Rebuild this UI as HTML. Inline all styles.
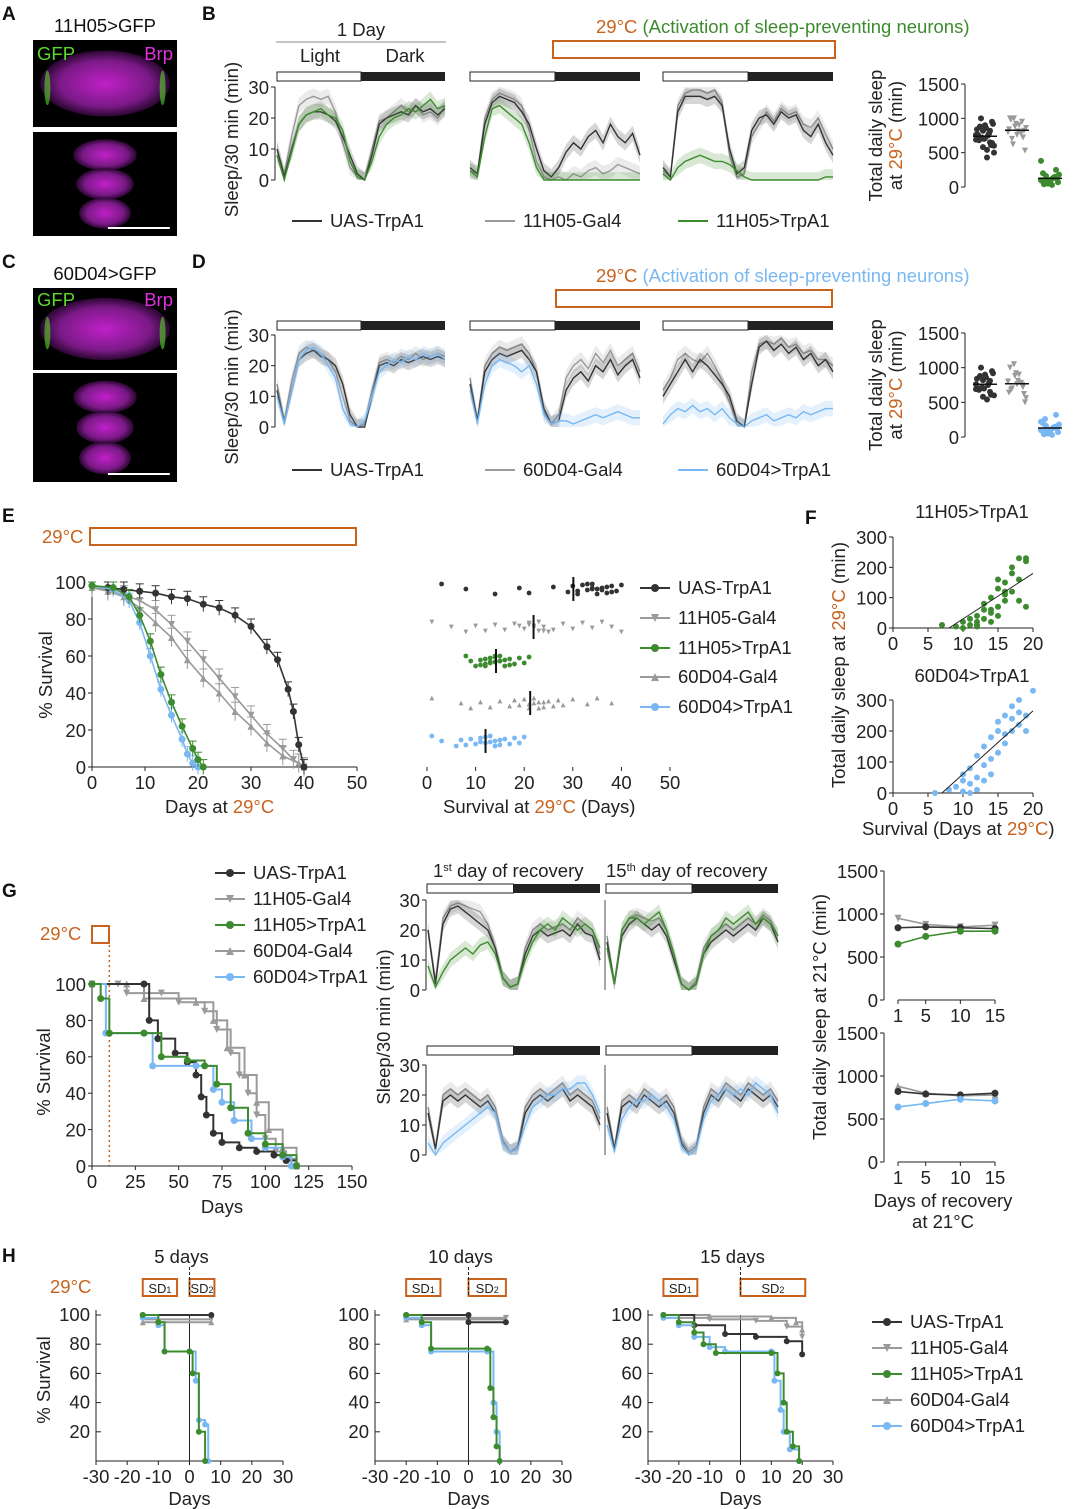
<!DOCTYPE html>
<html><head><meta charset="utf-8"><style>
html,body{margin:0;padding:0;background:#fff}
svg{display:block;font-family:"Liberation Sans",Arial,sans-serif}
</style></head><body>
<svg id="fig" width="1080" height="1509" viewBox="0 0 1080 1509" xmlns="http://www.w3.org/2000/svg">
<defs>
<radialGradient id="mag" cx="50%" cy="50%" r="50%"><stop offset="0" stop-color="#c020c8"/><stop offset="0.7" stop-color="#7a1a86"/><stop offset="1" stop-color="#2a0630"/></radialGradient>
</defs>
</svg>
<script>
// ---------- DATA ----------
const bTrUAS1=[10,1,10,18,21,22,22,21,19,14,8,2,0,8,18,20,21,22,21,24,22,23,21,23];
const bTrGal1=[10,2,14,24,26,27,26,27,22,12,4,1,0,10,19,20,22,24,22,24,21,22,20,24];
const bTrExp1=[8,0,9,18,21,22,23,21,20,16,6,1,0,6,14,18,20,21,23,22,24,26,23,24];
const bTrUAS2=[4,2,18,25,27,26,25,22,18,10,3,1,4,9,12,10,14,16,12,18,14,12,15,8];
const bTrGal2=[3,2,20,26,28,27,26,24,16,6,1,0,1,0,2,1,3,4,2,3,5,4,3,2];
const bTrExp2=[3,1,14,23,24,22,20,18,12,4,0,0,0,0,0,0,0,0,0,0,0,0,0,0];
const bTrUAS3=[4,1,22,27,27,27,26,27,24,10,2,4,16,20,21,18,22,20,21,16,14,18,12,8];
const bTrGal3=[3,1,24,28,29,29,28,29,25,8,1,2,14,18,22,19,23,21,22,18,17,20,15,10];
const bTrExp3=[2,0,4,6,7,8,7,6,6,5,3,1,0,0,0,0,0,0,0,0,0,0,1,1];
const dTrUAS1=[12,1,12,22,24,25,23,22,20,14,4,0,0,10,20,21,20,22,21,22,23,22,23,22];
const dTrGal1=[14,2,15,24,26,25,24,22,18,10,2,0,1,12,21,22,21,23,22,24,22,23,24,23];
const dTrExp1=[10,1,12,22,25,26,24,20,16,6,1,0,2,10,18,20,22,21,23,22,24,23,24,22];
const dTrUAS2=[14,2,18,22,24,23,24,25,22,18,6,1,2,12,16,18,15,20,18,22,17,20,22,16];
const dTrGal2=[16,2,20,24,26,25,26,27,24,18,5,1,4,16,20,22,19,24,21,25,20,22,24,18];
const dTrExp2=[12,1,14,20,22,21,20,18,20,14,4,1,2,2,1,2,3,4,3,4,5,4,3,3];
const dTrUAS3=[10,14,18,22,18,22,20,17,14,10,2,0,14,26,28,25,27,24,26,22,24,20,22,18];
const dTrGal3=[12,16,22,24,22,21,24,20,15,8,1,0,18,27,28,27,29,26,27,24,25,22,22,20];
const dTrExp3=[1,4,6,5,7,5,6,4,6,3,1,0,2,3,4,2,3,4,3,5,4,5,6,6];
const bDotUAS=[760,820,650,700,900,950,880,540,600,720,780,840,700,610,680,860,920,1000,750,690,580,820,760,710,640,880,430,500];
const bDotGal=[800,880,950,1000,760,820,700,900,860,1000,780,840,920,720,980,810,530,620];
const bDotExp=[100,50,150,200,80,120,60,30,180,100,140,90,60,250,40,110,70,160,130,380];
const dDotUAS=[760,820,650,700,900,950,880,540,600,720,780,840,700,610,680,860,920,1000,750,690,580,810];
const dDotGal=[800,880,750,1000,760,620,700,900,560,1050,780,640,920,720,680,810,500];
const dDotExp=[100,50,150,200,80,120,260,30,180,100,140,90,60,320,40,110,70,160,130,220];
const eUAS=[[0,98],[3,97],[6,96],[9,95],[12,94],[15,92],[18,91],[21,88],[24,86],[27,82],[30,76],[33,65],[35,58],[37,42],[38,30],[39,12],[40,0]];
const eGal1=[[0,97],[3,96],[6,93],[9,90],[12,85],[15,77],[18,68],[21,58],[24,48],[27,38],[30,28],[33,18],[36,10],[38,4],[40,0]];
const eGal2=[[0,97],[3,95],[6,92],[9,86],[12,78],[15,70],[18,58],[21,48],[24,40],[27,30],[30,22],[33,13],[36,6],[39,2],[40,0]];
const eExp1=[[0,98],[4,97],[7,92],[9,82],[11,68],[13,50],[15,35],[17,22],[19,10],[20,4],[21,0]];
const eExp2=[[0,98],[4,96],[7,90],[9,78],[11,60],[13,42],[15,28],[17,15],[18,7],[19,2],[20,0]];
const eScatUAS=[3,8,14,19,21,26,29,30,31,32,33,34,34,35,36,37,37,38,38,39,40,36,33,35,31,34];
const eScatGal1=[1,5,8,10,12,14,16,18,20,21,22,23,24,25,22,23,21,26,28,30,32,34,36,38,40,19,24];
const eScatExp1=[8,9,10,11,11,12,12,13,13,14,14,15,15,16,16,17,17,18,19,20,21,13,14,15,12];
const eScatGal2=[1,7,9,11,13,15,17,18,19,20,21,22,22,23,23,24,25,26,27,28,30,33,35,38,21,24];
const eScatExp2=[1,3,6,7,8,9,10,11,12,12,13,13,14,14,15,15,16,17,18,19,20,11,13];
const fTopX=[7,9,10,10,11,11,12,12,12,13,13,13,14,14,14,15,15,15,15,16,16,16,17,17,17,18,18,18,19,19,19,12,14,16];
const fTopY=[10,5,20,0,30,10,40,20,10,60,30,80,50,100,20,70,130,40,160,90,150,110,200,120,180,230,160,90,220,230,70,5,60,120];
const fBotX=[6,8,9,10,10,10,11,11,12,12,13,13,13,14,14,14,15,15,15,16,16,16,17,17,17,18,18,18,19,19,20,11,12];
const fBotY=[0,10,20,40,60,5,30,80,50,120,40,90,150,60,110,180,130,200,230,160,250,190,200,280,240,260,300,220,250,200,330,0,10];
const gUAS=[[0,100],[30,100],[33,80],[38,70],[48,62],[55,57],[60,50],[63,38],[66,28],[70,18],[75,13],[85,10],[95,8],[105,6],[112,3],[118,0]];
const gGal1=[[0,100],[15,100],[20,95],[40,95],[50,90],[65,85],[72,75],[80,62],[85,50],[90,40],[95,28],[100,15],[106,8],[112,4],[118,0]];
const gExp1=[[0,100],[5,92],[10,73],[30,73],[40,60],[55,58],[65,55],[72,45],[80,32],[90,18],[100,12],[110,6],[118,0]];
const gGal2=[[0,100],[20,100],[30,92],[60,90],[70,80],[78,65],[88,50],[95,35],[102,20],[110,10],[118,0]];
const gExp2=[[0,100],[8,73],[30,73],[35,55],[60,55],[70,42],[75,35],[82,25],[92,15],[100,10],[110,5],[115,0]];
const gR1UAS=[20,2,22,27,28,26,24,22,20,14,4,1,2,12,18,20,18,19,20,18,22,19,18,10];
const gR1Gal=[20,3,24,28,29,28,27,26,22,14,4,1,2,14,20,22,20,21,22,20,24,22,20,12];
const gR1Exp=[8,1,6,10,12,14,12,15,16,12,4,1,2,10,16,20,22,20,24,22,20,22,20,14];
const gR15UAS=[16,2,18,22,24,22,20,22,18,10,2,0,2,12,16,18,20,18,20,22,20,24,22,16];
const gR15Gal=[18,2,20,24,25,24,23,24,20,12,2,0,3,14,18,20,22,20,22,24,22,25,23,18];
const gR15Exp=[14,2,20,24,24,22,24,26,20,12,2,0,2,12,18,20,24,22,24,26,22,24,22,18];
const gS1UAS=[14,2,18,20,18,20,18,16,18,14,4,1,2,14,18,20,18,20,22,18,20,18,16,10];
const gS1Gal=[16,2,20,22,20,22,20,18,20,16,5,1,3,16,20,22,20,22,24,20,22,20,18,12];
const gS1Exp=[4,0,4,6,8,10,12,14,16,14,4,1,2,10,16,18,20,20,22,22,24,24,20,14];
const gS15UAS=[14,2,16,18,16,20,18,16,18,14,4,0,2,14,20,18,22,20,18,22,20,18,20,16];
const gS15Gal=[16,2,18,20,18,22,20,18,20,16,5,1,3,16,22,20,24,22,20,24,22,20,22,18];
const gS15Exp=[10,1,12,16,18,18,20,18,16,12,3,0,2,12,18,20,22,20,22,20,24,22,20,14];
const recDays=[1,5,10,15];
const rTopUAS=[840,850,840,830];
const rTopGal=[950,880,850,870];
const rTopExp=[650,740,800,800];
const rBotUAS=[820,790,780,800];
const rBotGal=[880,800,770,780];
const rBotExp=[640,680,730,710];
const h5UAS=[[-15,100],[7,100]], h5Gal1=[[-15,97],[7,97]], h5Gal2=[[-15,95],[7,95]];
const h5Exp1=[[-15,100],[-10,95],[-8,75],[0,75],[1,60],[3,20],[5,0]];
const h5Exp2=[[-15,98],[-10,93],[-8,75],[0,75],[2,55],[3,28],[5,25],[6,0]];
const h10UAS=[[-20,100],[0,100],[0,95],[12,95]], h10Gal1=[[-20,98],[12,98]], h10Gal2=[[-20,97],[12,97]];
const h10Exp1=[[-20,100],[-15,95],[-12,77],[6,77],[7,50],[8,30],[9,10],[10,0]];
const h10Exp2=[[-20,98],[-15,93],[-12,75],[6,75],[8,40],[9,20],[10,0]];
const h15UAS=[[-25,100],[-15,93],[-5,87],[5,85],[15,82],[20,73]];
const h15Gal1=[[-25,98],[-10,97],[5,96],[15,92],[20,85]];
const h15Gal2=[[-25,100],[-10,99],[10,98],[18,95],[20,90]];
const h15Exp1=[[-25,100],[-20,95],[-15,88],[-12,80],[-8,74],[10,74],[12,60],[14,40],[15,20],[17,10],[19,0]];
const h15Exp2=[[-25,98],[-20,93],[-15,85],[-10,78],[-5,75],[10,75],[11,55],[13,35],[14,20],[16,8],[19,0]];

// ---------- HELPERS ----------
const NS="http://www.w3.org/2000/svg";
const svg=document.getElementById('fig');
const C={uas:'#333333',gal:'#9a9a9a',grn:'#3d8b2f',blu:'#79b8f2',org:'#c8631e'};
function mk(tag,attrs,name,inter){
  const el=document.createElementNS(NS,tag);
  for(const k in attrs) el.setAttribute(k,attrs[k]);
  
  
  svg.appendChild(el);return el;
}
function lin(d0,d1,r0,r1){return v=>r0+(v-d0)*(r1-r0)/(d1-d0);}
function txt(x,y,s,size,anchor,fill,name,extra){
  if(size===17) size=18.5;
  const t=mk('text',Object.assign({x:x,y:y,'font-size':size,'text-anchor':anchor||'start',fill:fill||'#222'},extra||{}),name);
  t.textContent=s;return t;
}
function line(x1,y1,x2,y2,stroke,w,name,dash){
  return mk('line',{x1,y1,x2,y2,stroke,'stroke-width':w||1,'stroke-dasharray':dash||'none'},name);
}
function yAxis(x,sc,ticks,size,name){
  line(x,sc(ticks[0]),x,sc(ticks[ticks.length-1]),'#222',1,name+'-line');
  ticks.forEach(t=>{line(x-4,sc(t),x,sc(t),'#222',1,name+'-tick');txt(x-6,sc(t)+7,String(t),size||17,'end','#222',name+'-label');});
}
function xAxis(y,sc,ticks,size,name,noline){
  if(!noline) line(sc(ticks[0]),y,sc(ticks[ticks.length-1]),y,'#222',1,name+'-line');
  ticks.forEach(t=>{line(sc(t),y,sc(t),y+4,'#222',1,name+'-tick');txt(sc(t),y+22,String(t),size||17,'middle','#222',name+'-label');});
}
function trace(arr,x0,x1,sy,col,name,band){
  const sx=lin(0,arr.length-1,x0,x1);
  if(band){
    let up=arr.map((v,i)=>sx(i)+','+sy(Math.min(30,v+band)));
    let dn=arr.map((v,i)=>sx(i)+','+sy(Math.max(0,v-band))).reverse();
    mk('polygon',{points:up.concat(dn).join(' '),fill:col,'fill-opacity':0.2,stroke:'none'},name+'-sem');
  }
  mk('polyline',{points:arr.map((v,i)=>sx(i)+','+sy(v)).join(' '),fill:'none',stroke:col,'stroke-width':1.4},name);
}
function ldBar(x0,x1,y,name){
  const m=(x0+x1)/2;
  mk('rect',{x:x0,y:y,width:m-x0,height:9,fill:'#fff',stroke:'#222','stroke-width':1},name+'-light');
  mk('rect',{x:m,y:y,width:x1-m,height:9,fill:'#222'},name+'-dark');
}
function stepCurve(pts,sx,sy,col,name,marker,r){
  let p=[];pts.forEach((q,i)=>{if(i>0)p.push(sx(q[0])+','+sy(pts[i-1][1]));p.push(sx(q[0])+','+sy(q[1]));});
  mk('polyline',{points:p.join(' '),fill:'none',stroke:col,'stroke-width':2},name);
  if(marker) pts.forEach(q=>marker(sx(q[0]),sy(q[1]),col,name+'-point',r||3.5));
}
function smoothCurve(pts,sx,sy,col,name,marker,err){
  mk('polyline',{points:pts.map(q=>sx(q[0])+','+sy(q[1])).join(' '),fill:'none',stroke:col,'stroke-width':1.6},name);
  pts.forEach(q=>{
    if(err){line(sx(q[0]),sy(q[1]-err),sx(q[0]),sy(Math.min(100,q[1]+err)),col,1,name+'-err');line(sx(q[0])-4,sy(Math.min(100,q[1]+err)),sx(q[0])+4,sy(Math.min(100,q[1]+err)),col,1,name+'-cap');}
    marker(sx(q[0]),sy(q[1]),col,name+'-point',3.5);
  });
}
function dot(x,y,col,name,r){return mk('circle',{cx:x,cy:y,r:r||3.5,fill:col},name);}
function tri(x,y,col,name,r){r=r||3.5;return mk('polygon',{points:`${x-r},${y+r} ${x+r},${y+r} ${x},${y-r}`,fill:col},name);}
function vtri(x,y,col,name,r){r=r||3.5;return mk('polygon',{points:`${x-r},${y-r} ${x+r},${y-r} ${x},${y+r}`,fill:col},name);}
function legend(x,y,label,col,marker,name,size){
  line(x,y,x+30,y,col,2,name+'-swatch');
  if(marker) marker(x+15,y,col,name+'-marker',4);
  txt(x+38,y+6,label,size||17,'start','#222',name+'-label');
}
function letter(x,y,s){txt(x,y,s,19,'start','#111','panel-label-'+s,{'font-weight':'bold'});}

// ---------- PANEL A / C (microscopy) ----------
function micro(x,y,w,h,name,brain){
  mk('rect',{x,y,width:w,height:h,fill:'#000'},name);
  if(brain){
    mk('ellipse',{cx:x+w/2,cy:y+h*0.5,rx:w*0.45,ry:h*0.38,fill:'url(#mag)'},name+'-brain');
    mk('ellipse',{cx:x+w*0.1,cy:y+h*0.55,rx:3,ry:h*0.2,fill:'#5ad82a','fill-opacity':0.6},name+'-gfp-left');
    mk('ellipse',{cx:x+w*0.9,cy:y+h*0.55,rx:3,ry:h*0.2,fill:'#5ad82a','fill-opacity':0.6},name+'-gfp-right');
  } else {
    [0.22,0.5,0.78].forEach((f,i)=>mk('ellipse',{cx:x+w/2,cy:y+h*f,rx:w*(0.22-i*0.02),ry:h*0.15,fill:'url(#mag)'},name+'-vnc'));
    line(x+w*0.52,y+h-8,x+w*0.95,y+h-8,'#fff',2,name+'-scalebar');
  }
}
txt(105,32,'11H05>GFP',17,'middle','#111','a-title');
letter(2,20,'A');
micro(33,40,144,87,'a-brain-image',true);
txt(37,60,'GFP',17,'start','#5ad82a','a-gfp-label');txt(173,60,'Brp',17,'end','#e030e0','a-brp-label');
micro(33,132,144,104,'a-vnc-image',false);
letter(2,268,'C');
txt(105,280,'60D04>GFP',17,'middle','#111','c-title');
micro(33,288,144,82,'c-brain-image',true);
txt(37,306,'GFP',17,'start','#5ad82a','c-gfp-label');txt(173,306,'Brp',17,'end','#e030e0','c-brp-label');
micro(33,373,144,109,'c-vnc-image',false);

// ---------- PANEL B / D ----------
function sleepPanel(yTop,yBot,barY,sets,expCol,labelExp,labelGal,legendY,dotTop,dotBot,dots,name){
  const sy=lin(0,30,yBot,yTop);
  const xs=[[277,445],[470,640],[663,833]];
  yAxis(275,sy,[0,10,20,30],17,name+'-y-axis');
  xs.forEach((r,i)=>{
    ldBar(r[0],r[1],barY,name+'-ld-bar-'+(i+1));
    trace(sets[i][1],r[0],r[1],sy,C.gal,name+'-gal4-trace-'+(i+1),2.5);
    trace(sets[i][0],r[0],r[1],sy,C.uas,name+'-uas-trace-'+(i+1),2.5);
    trace(sets[i][2],r[0],r[1],sy,expCol,name+'-exp-trace-'+(i+1),2.5);
  });
  txt(0,0,'Sleep/30 min (min)',17,'middle','#222',name+'-y-title',{transform:`translate(238,${(yTop+yBot)/2+6}) rotate(-90)`});
  legend(292,legendY,'UAS-TrpA1',C.uas,null,name+'-legend-uas');
  legend(485,legendY,labelGal,C.gal,null,name+'-legend-gal4');
  legend(678,legendY,labelExp,expCol,null,name+'-legend-exp');
  // dot plot
  const dy=lin(0,1500,dotBot,dotTop);
  yAxis(965,dy,[0,500,1000,1500],17,name+'-dot-y-axis');
  const cols=[985,1017,1050];const cc=[C.uas,C.gal,expCol];const mm=[dot,vtri,dot];
  dots.forEach((arr,k)=>{
    arr.forEach((v,i)=>mm[k](cols[k]+((i*7)%19-9),dy(v),cc[k],name+'-dot',3));
    const m=arr.reduce((a,b)=>a+b,0)/arr.length;
    line(cols[k]-12,dy(m),cols[k]+12,dy(m),'#111',1.5,name+'-dot-mean');
  });
  txt(0,0,'Total daily sleep',17,'middle','#222',name+'-dot-y-title',{transform:`translate(882,${(dotTop+dotBot)/2}) rotate(-90)`});
  const t=txt(0,0,'at ',17,'middle','#222',name+'-dot-y-title2',{transform:`translate(902,${(dotTop+dotBot)/2}) rotate(-90)`});
  const s=document.createElementNS(NS,'tspan');s.setAttribute('fill',C.org);s.textContent='29°C';t.appendChild(s);
  t.appendChild(document.createTextNode(' (min)'));
}
letter(202,20,'B');
txt(361,36,'1 Day',17,'middle','#222','b-day-label');
line(276,42,446,42,'#888',1,'b-day-line');
txt(320,62,'Light',17,'middle','#222','b-light-label');
txt(405,62,'Dark',17,'middle','#222','b-dark-label');
(function(){const t=txt(596,33,'29°C ',17,'start',C.org,'b-temp-label');const s=document.createElementNS(NS,'tspan');s.setAttribute('fill',C.grn);s.textContent='(Activation of sleep-preventing neurons)';t.appendChild(s);})();
mk('rect',{x:553,y:41,width:282,height:17,fill:'none',stroke:C.org,'stroke-width':2},'b-heat-box');
sleepPanel(87,180,72,[[bTrUAS1,bTrGal1,bTrExp1],[bTrUAS2,bTrGal2,bTrExp2],[bTrUAS3,bTrGal3,bTrExp3]],C.grn,'11H05>TrpA1','11H05-Gal4',221,84,187,[bDotUAS,bDotGal,bDotExp],'b');
letter(192,268,'D');
(function(){const t=txt(596,282,'29°C ',17,'start',C.org,'d-temp-label');const s=document.createElementNS(NS,'tspan');s.setAttribute('fill',C.blu);s.textContent='(Activation of sleep-preventing neurons)';t.appendChild(s);})();
mk('rect',{x:556,y:290,width:276,height:17,fill:'none',stroke:C.org,'stroke-width':2},'d-heat-box');
sleepPanel(335,427,321,[[dTrUAS1,dTrGal1,dTrExp1],[dTrUAS2,dTrGal2,dTrExp2],[dTrUAS3,dTrGal3,dTrExp3]],C.blu,'60D04>TrpA1','60D04-Gal4',470,333,437,[dDotUAS,dDotGal,dDotExp],'d');

// ---------- PANEL E ----------
letter(2,522,'E');
txt(42,543,'29°C',17,'start',C.org,'e-temp-label');
mk('rect',{x:90,y:528,width:266,height:17,fill:'none',stroke:C.org,'stroke-width':2},'e-heat-box');
const eX=lin(0,50,92,357), eY=lin(0,100,767,582);
yAxis(92,eY,[0,20,40,60,80,100],17,'e-y-axis');
xAxis(767,eX,[0,10,20,30,40,50],17,'e-x-axis');
txt(0,0,'% Survival',17,'middle','#222','e-y-title',{transform:'translate(52,675) rotate(-90)'});
(function(){const t=txt(165,813,'Days at ',17,'start','#222','e-x-title');const s=document.createElementNS(NS,'tspan');s.setAttribute('fill',C.org);s.textContent='29°C';t.appendChild(s);})();
smoothCurve(eGal2,eX,eY,C.gal,'e-60d04-gal4-curve',tri,5);
smoothCurve(eGal1,eX,eY,C.gal,'e-11h05-gal4-curve',vtri,5);
smoothCurve(eUAS,eX,eY,C.uas,'e-uas-curve',dot,4);
smoothCurve(eExp2,eX,eY,C.blu,'e-60d04-trpa1-curve',dot,4);
smoothCurve(eExp1,eX,eY,C.grn,'e-11h05-trpa1-curve',dot,4);
const esX=lin(0,50,427,670);
xAxis(767,esX,[0,10,20,30,40,50],17,'e-scatter-x-axis',true);
(function(){const t=txt(443,813,'Survival at ',17,'start','#222','e-scatter-x-title');const s=document.createElementNS(NS,'tspan');s.setAttribute('fill',C.org);s.textContent='29°C';t.appendChild(s);t.appendChild(document.createTextNode(' (Days)'));})();
[[eScatUAS,C.uas,589,dot],[eScatGal1,C.gal,627,vtri],[eScatExp1,C.grn,661,dot],[eScatGal2,C.gal,703,tri],[eScatExp2,C.blu,741,dot]].forEach((r,k)=>{
  r[0].forEach((v,i)=>r[3](esX(v),r[2]+((i*5)%11-5),r[1],'e-scatter-point',2.4));
  const m=r[0].reduce((a,b)=>a+b,0)/r[0].length;
  line(esX(m),r[2]-12,esX(m),r[2]+12,'#111',2,'e-scatter-median');
});
legend(640,588,'UAS-TrpA1',C.uas,dot,'e-legend-uas');
legend(640,618,'11H05-Gal4',C.gal,vtri,'e-legend-11h05-gal4');
legend(640,648,'11H05>TrpA1',C.grn,dot,'e-legend-11h05-trpa1');
legend(640,677,'60D04-Gal4',C.gal,tri,'e-legend-60d04-gal4');
legend(640,707,'60D04>TrpA1',C.blu,dot,'e-legend-60d04-trpa1');

// ---------- PANEL F ----------
letter(805,524,'F');
const fX=lin(0,20,893,1033);
const fY1=lin(0,300,628,537), fY2=lin(0,300,793,700);
txt(972,518,'11H05>TrpA1',17,'middle','#222','f-top-title');
txt(972,682,'60D04>TrpA1',17,'middle','#222','f-bottom-title');
yAxis(893,fY1,[0,100,200,300],17,'f-top-y-axis');
yAxis(893,fY2,[0,100,200,300],17,'f-bottom-y-axis');
xAxis(628,fX,[0,5,10,15,20],17,'f-top-x-axis');
xAxis(793,fX,[0,5,10,15,20],17,'f-bottom-x-axis');
fTopX.forEach((v,i)=>dot(fX(v),fY1(fTopY[i]),C.grn,'f-top-point',3));
fBotX.forEach((v,i)=>dot(fX(v),fY2(fBotY[i]),C.blu,'f-bottom-point',3));
line(fX(8),fY1(0),fX(20),fY1(180),'#222',1,'f-top-fit');
line(fX(7),fY2(0),fX(20),fY2(265),'#222',1,'f-bottom-fit');
(function(){const t=txt(0,0,'Total daily sleep at ',17,'middle','#222','f-y-title',{transform:'translate(845,665) rotate(-90)'});const s=document.createElementNS(NS,'tspan');s.setAttribute('fill',C.org);s.textContent='29°C';t.appendChild(s);t.appendChild(document.createTextNode(' (min)'));})();
(function(){const t=txt(862,835,'Survival (Days at ',17,'start','#222','f-x-title');const s=document.createElementNS(NS,'tspan');s.setAttribute('fill',C.org);s.textContent='29°C';t.appendChild(s);t.appendChild(document.createTextNode(')'));})();

// ---------- PANEL G ----------
letter(2,897,'G');
txt(40,940,'29°C',17,'start',C.org,'g-temp-label');
mk('rect',{x:92,y:926,width:17,height:17,fill:'none',stroke:C.org,'stroke-width':2},'g-heat-box');
const gX=lin(0,150,92,352), gY=lin(0,100,1166,984);
line(gX(10),945,gX(10),1166,C.org,1.5,'g-heat-end-line','2,3');
yAxis(92,gY,[0,20,40,60,80,100],17,'g-y-axis');
xAxis(1166,gX,[0,25,50,75,100,125,150],17,'g-x-axis');
txt(0,0,'% Survival',17,'middle','#222','g-y-title',{transform:'translate(50,1072) rotate(-90)'});
txt(222,1213,'Days',17,'middle','#222','g-x-title');
stepCurve(gGal1,gX,gY,C.gal,'g-11h05-gal4-curve',vtri);
stepCurve(gGal2,gX,gY,C.gal,'g-60d04-gal4-curve',tri);
stepCurve(gUAS,gX,gY,C.uas,'g-uas-curve',dot);
stepCurve(gExp2,gX,gY,C.blu,'g-60d04-trpa1-curve',dot);
stepCurve(gExp1,gX,gY,C.grn,'g-11h05-trpa1-curve',dot);
legend(215,873,'UAS-TrpA1',C.uas,dot,'g-legend-uas');
legend(215,899,'11H05-Gal4',C.gal,vtri,'g-legend-11h05-gal4');
legend(215,925,'11H05>TrpA1',C.grn,dot,'g-legend-11h05-trpa1');
legend(215,951,'60D04-Gal4',C.gal,tri,'g-legend-60d04-gal4');
legend(215,977,'60D04>TrpA1',C.blu,dot,'g-legend-60d04-trpa1');
(function(){
  const t=txt(433,877,'1',17,'start','#222','g-day1-title');const s=document.createElementNS(NS,'tspan');s.setAttribute('font-size','11');s.setAttribute('dy','-6');s.textContent='st';t.appendChild(s);const s2=document.createElementNS(NS,'tspan');s2.setAttribute('dy','6');s2.textContent=' day of recovery';t.appendChild(s2);
  const u=txt(606,877,'15',17,'start','#222','g-day15-title');const v=document.createElementNS(NS,'tspan');v.setAttribute('font-size','11');v.setAttribute('dy','-6');v.textContent='th';u.appendChild(v);const v2=document.createElementNS(NS,'tspan');v2.setAttribute('dy','6');v2.textContent=' day of recovery';u.appendChild(v2);
})();
const gTopY=lin(0,30,990,900), gBotY=lin(0,30,1155,1065);
ldBar(427,600,884,'g-ld-bar-1');ldBar(606,778,884,'g-ld-bar-2');
ldBar(427,600,1046,'g-ld-bar-3');ldBar(606,778,1046,'g-ld-bar-4');
yAxis(426,gTopY,[0,10,20,30],17,'g-trace-top-y-axis');
yAxis(426,gBotY,[0,10,20,30],17,'g-trace-bottom-y-axis');
line(605,900,605,990,'#222',0.8,'g-trace-axis-2');line(605,1065,605,1155,'#222',0.8,'g-trace-axis-4');
txt(0,0,'Sleep/30 min (min)',17,'middle','#222','g-trace-y-title',{transform:'translate(390,1027) rotate(-90)'});
[[gR1UAS,gR1Gal,gR1Exp,428,600,gTopY,C.grn],[gR15UAS,gR15Gal,gR15Exp,607,778,gTopY,C.grn],[gS1UAS,gS1Gal,gS1Exp,428,600,gBotY,C.blu],[gS15UAS,gS15Gal,gS15Exp,607,778,gBotY,C.blu]].forEach((p,i)=>{
  trace(p[1],p[3],p[4],p[5],C.gal,'g-gal4-trace-'+(i+1),2.5);
  trace(p[0],p[3],p[4],p[5],C.uas,'g-uas-trace-'+(i+1),2.5);
  trace(p[2],p[3],p[4],p[5],p[6],'g-exp-trace-'+(i+1),2.5);
});
const rX=lin(1,15,898,995);
const rY1=lin(0,1500,1000,871), rY2=lin(0,1500,1162,1033);
yAxis(884,rY1,[0,500,1000,1500],17,'g-rec-top-y-axis');
yAxis(884,rY2,[0,500,1000,1500],17,'g-rec-bottom-y-axis');
xAxis(1000,rX,recDays,17,'g-rec-top-x-axis');
xAxis(1162,rX,recDays,17,'g-rec-bottom-x-axis');
function recLine(arr,sy,col,marker,name){
  mk('polyline',{points:arr.map((v,i)=>rX(recDays[i])+','+sy(v)).join(' '),fill:'none',stroke:col,'stroke-width':1.6},name);
  arr.forEach((v,i)=>{line(rX(recDays[i]),sy(v-40),rX(recDays[i]),sy(v+40),col,1,name+'-err');marker(rX(recDays[i]),sy(v),col,name+'-point',3.5);});
}
recLine(rTopGal,rY1,C.gal,vtri,'g-rec-top-gal4');recLine(rTopUAS,rY1,C.uas,dot,'g-rec-top-uas');recLine(rTopExp,rY1,C.grn,dot,'g-rec-top-exp');
recLine(rBotGal,rY2,C.gal,tri,'g-rec-bottom-gal4');recLine(rBotUAS,rY2,C.uas,dot,'g-rec-bottom-uas');recLine(rBotExp,rY2,C.blu,dot,'g-rec-bottom-exp');
txt(0,0,'Total daily sleep at 21°C (min)',17,'middle','#222','g-rec-y-title',{transform:'translate(826,1017) rotate(-90)'});
txt(943,1207,'Days of recovery',17,'middle','#222','g-rec-x-title');
txt(943,1228,'at 21°C',17,'middle','#222','g-rec-x-title2');

// ---------- PANEL H ----------
letter(2,1262,'H');
txt(50,1293,'29°C',17,'start',C.org,'h-temp-label');
function hPanel(x0,x1,title,boxes,sets,name){
  const sx=lin(-30,30,x0,x1), sy=lin(0,100,1461,1315);
  txt(sx(0)-8,1263,title,17,'middle','#222',name+'-title');
  boxes.forEach((b,i)=>{
    mk('rect',{x:sx(b[0]),y:1279,width:sx(b[1])-sx(b[0]),height:17,fill:'none',stroke:C.org,'stroke-width':2},name+'-sd-box-'+(i+1));
    const t=txt((sx(b[0])+sx(b[1]))/2,1293,'SD',13,'middle','#222',name+'-sd-label-'+(i+1));
    const s=document.createElementNS(NS,'tspan');s.setAttribute('font-size','9');s.textContent=String(i+1);t.appendChild(s);
  });
  line(sx(boxes[1][0]),1267,sx(boxes[1][0]),1296,'#222',1,name+'-divider','3,2');
  line(sx(0),1315,sx(0),1461,'#222',1,name+'-zero-line');
  line(x0,1310,x0,1461,'#222',1,name+'-y-axis-line');
  [20,40,60,80,100].forEach(t=>{line(x0,sy(t),x0+5,sy(t),'#222',1,name+'-y-tick');txt(x0-6,sy(t)+6,String(t),17,'end','#222',name+'-y-label');});
  xAxis(1461,sx,[-30,-20,-10,0,10,20,30],17,name+'-x-axis');
  txt(sx(0),1505,'Days',17,'middle','#222',name+'-x-title');
  const m=[[C.gal,vtri],[C.gal,tri],[C.uas,dot],[C.blu,dot],[C.grn,dot]];
  sets.forEach((s,i)=>stepCurve(s,sx,sy,m[i][0],name+'-curve-'+(i+1),m[i][1],3));
}
txt(0,0,'% Survival',17,'middle','#222','h-y-title',{transform:'translate(50,1380) rotate(-90)'});
hPanel(96,283,'5 days',[[-15,-4],[0,8]],[h5Gal1,h5Gal2,h5UAS,h5Exp2,h5Exp1],'h-5days');
hPanel(375,562,'10 days',[[-20,-9],[0,12]],[h10Gal1,h10Gal2,h10UAS,h10Exp2,h10Exp1],'h-10days');
hPanel(648,833,'15 days',[[-25,-14],[0,21]],[h15Gal1,h15Gal2,h15UAS,h15Exp2,h15Exp1],'h-15days');
legend(872,1322,'UAS-TrpA1',C.uas,dot,'h-legend-uas');
legend(872,1348,'11H05-Gal4',C.gal,vtri,'h-legend-11h05-gal4');
legend(872,1374,'11H05>TrpA1',C.grn,dot,'h-legend-11h05-trpa1');
legend(872,1400,'60D04-Gal4',C.gal,tri,'h-legend-60d04-gal4');
legend(872,1426,'60D04>TrpA1',C.blu,dot,'h-legend-60d04-trpa1');
</script>
</body></html>
